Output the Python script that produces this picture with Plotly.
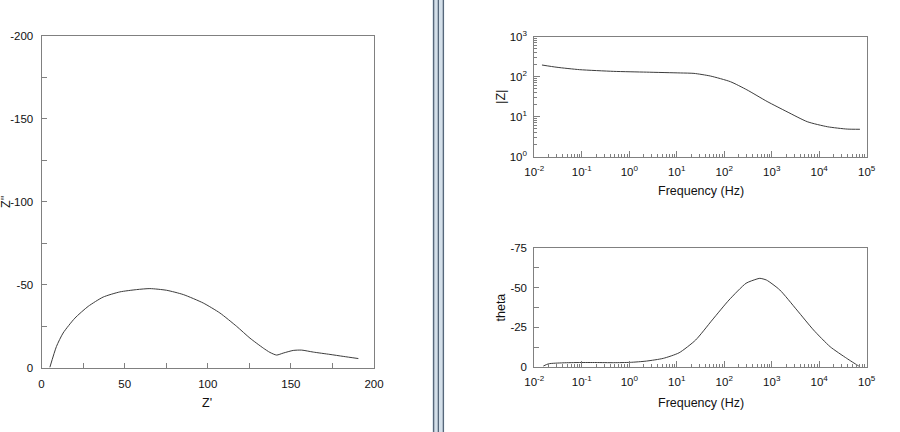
import plotly.graph_objects as go

# ---------------- data ----------------
# Nyquist
z_re = [5.0, 9.0, 13.0, 20.1, 28.1, 37.1, 47.1, 57.2, 65.2, 75.2, 85.3, 97.3, 107.3,
        117.4, 125.4, 133.4, 137.4, 141.4, 145.4, 151.4, 156.5, 163.5, 173.5, 181.5, 190.6]
z_im = [0.0, -12.7, -20.8, -29.8, -36.9, -42.5, -45.6, -47.0, -47.6, -46.6, -44.0, -38.9, -32.9,
        -24.8, -17.7, -11.7, -9.1, -7.5, -8.7, -10.3, -10.5, -9.3, -7.9, -6.7, -5.4]

# Bode magnitude
mag_freq = [0.0145, 0.03, 0.09, 0.47, 2.3, 12, 23, 51, 135, 300, 800, 2100, 5600, 15000, 39000, 72000]
mag_z = [196, 172, 150, 136, 130, 124, 121, 104, 75, 47, 24, 13.3, 7.5, 5.6, 4.9, 4.85]

# Bode phase
ph_freq = [0.0155, 0.02, 0.04, 0.09, 0.2, 0.47, 1.05, 2.3, 5.2, 11.2, 25, 56, 126, 288, 468,
           562, 776, 1480, 3390, 7590, 17000, 38000, 63000, 68000]
ph_theta = [-0.8, -2.2, -2.8, -3.0, -3.0, -2.9, -3.1, -3.9, -5.6, -9.1, -17.1, -29.7, -42.2, -52.7,
            -55.2, -55.8, -54.7, -48.5, -35.9, -23.4, -12.9, -5.6, -1.4, -0.8]

nyq_x_ticks = [0, 50, 100, 150, 200]
nyq_x_text = ["0", "50", "100", "150", "200"]
nyq_y_ticks = [-200, -150, -100, -50, 0]
nyq_y_text = ["-200", "-150", "-100", "-50", "0"]
freq_tickvals = [1e-2, 1e-1, 1e0, 1e1, 1e2, 1e3, 1e4, 1e5]
freq_ticktext = ["10<sup>-2</sup>", "10<sup>-1</sup>", "10<sup>0</sup>", "10<sup>1</sup>",
                 "10<sup>2</sup>", "10<sup>3</sup>", "10<sup>4</sup>", "10<sup>5</sup>"]
mag_tickvals = [1, 10, 100, 1000]
mag_ticktext = ["10<sup>0</sup>", "10<sup>1</sup>", "10<sup>2</sup>", "10<sup>3</sup>"]
theta_ticks = [-75, -50, -25, 0]
theta_text = ["-75", "-50", "-25", "0"]

# ---------------- layout helpers ----------------
W, H = 900, 432
def px(x):
    return x / W
def py(y):
    return 1 - y / H

LINE = "#3c3c3c"
AX = "#808080"
FONT = "Liberation Sans, Arial, sans-serif"
TICK_SIZE = 11.5
TITLE_SIZE = 12.5

fig = go.Figure()
fig.add_trace(go.Scatter(x=z_re, y=z_im, mode="lines", xaxis="x", yaxis="y",
                         line=dict(color=LINE, width=1, shape="spline", smoothing=0.6),
                         showlegend=False, hoverinfo="skip"))
fig.add_trace(go.Scatter(x=mag_freq, y=mag_z, mode="lines", xaxis="x2", yaxis="y2",
                         line=dict(color=LINE, width=1, shape="spline", smoothing=0.6),
                         showlegend=False, hoverinfo="skip"))
fig.add_trace(go.Scatter(x=ph_freq, y=ph_theta, mode="lines", xaxis="x3", yaxis="y3",
                         line=dict(color=LINE, width=1, shape="spline", smoothing=0.6),
                         showlegend=False, hoverinfo="skip"))

common = dict(showline=True, mirror=True, linecolor=AX, linewidth=1, ticks="inside",
              tickcolor=AX, showgrid=False, zeroline=False,
              tickfont=dict(family=FONT, size=TICK_SIZE, color="#111111"))

fig.update_layout(
    width=W, height=H,
    margin=dict(l=0, r=0, t=0, b=0, autoexpand=False),
    paper_bgcolor="white", plot_bgcolor="white",
    font=dict(family=FONT, size=12, color="#111111"),
    xaxis=dict(domain=[px(41.5), px(374)], range=[0, 200], anchor="y",
               tickmode="array", tickvals=nyq_x_ticks, ticktext=nyq_x_text,
               ticklen=5, ticklabelstandoff=6,
               minor=dict(ticks="inside", dtick=25, ticklen=5, tickcolor=AX, showgrid=False),
               **common),
    yaxis=dict(domain=[py(367.5), py(36)], range=[0, -200], anchor="x",
               tickmode="array", tickvals=nyq_y_ticks, ticktext=nyq_y_text,
               ticklen=5, ticklabelstandoff=5,
               minor=dict(ticks="inside", dtick=25, ticklen=5, tickcolor=AX, showgrid=False),
               **common),
    xaxis2=dict(domain=[px(534.3), px(866.7)], type="log", range=[-2, 5], anchor="y2",
                tickmode="array", tickvals=freq_tickvals, ticktext=freq_ticktext,
                ticklen=6, ticklabelstandoff=4,
                minor=dict(ticks="inside", dtick="D1", ticklen=3, tickcolor=AX, showgrid=False),
                **common),
    yaxis2=dict(domain=[py(156.7), py(36.7)], type="log", range=[0, 3], anchor="x2",
                tickmode="array", tickvals=mag_tickvals, ticktext=mag_ticktext,
                ticklen=6, ticklabelstandoff=4,
                minor=dict(ticks="inside", dtick="D1", ticklen=3, tickcolor=AX, showgrid=False),
                **common),
    xaxis3=dict(domain=[px(534.3), px(866.7)], type="log", range=[-2, 5], anchor="y3",
                tickmode="array", tickvals=freq_tickvals, ticktext=freq_ticktext,
                ticklen=6, ticklabelstandoff=4,
                minor=dict(ticks="inside", dtick="D1", ticklen=3, tickcolor=AX, showgrid=False),
                **common),
    yaxis3=dict(domain=[py(367.3), py(247.7)], range=[0, -75], anchor="x3",
                tickmode="array", tickvals=theta_ticks, ticktext=theta_text,
                ticklen=5, ticklabelstandoff=4,
                minor=dict(ticks="inside", dtick=12.5, ticklen=5, tickcolor=AX, showgrid=False),
                **common),
)

# axis titles
titles = [
    ("Z'", 207, 403, 0),
    ("Z''", 6, 202, -90),
    ("Frequency (Hz)", 700.5, 191, 0),
    ("Frequency (Hz)", 700.5, 403, 0),
    ("|Z|", 501, 96.7, -90),
    ("theta", 500, 307.5, -90),
]
for txt, x, y, ang in titles:
    fig.add_annotation(text=txt, x=px(x), y=py(y), xref="paper", yref="paper",
                       showarrow=False, textangle=ang, xanchor="center", yanchor="middle",
                       font=dict(family=FONT, size=TITLE_SIZE, color="#111111"))

# window splitter decoration
fig.add_shape(type="rect", xref="paper", yref="paper", x0=px(432.3), x1=px(444.3), y0=0, y1=1,
              fillcolor="#d3dfe9", line=dict(width=0), layer="below")
for a, b in [(433.0, 434.3), (437.7, 439.0), (442.7, 444.0)]:
    fig.add_shape(type="rect", xref="paper", yref="paper", x0=px(a), x1=px(b), y0=0, y1=1,
                  fillcolor="#56677a", line=dict(width=0), layer="below")

fig.write_html("out.html",
               config={"displayModeBar": False},
               post_script="document.body.style.margin='0';document.body.style.padding='0';"
                           "document.body.style.overflow='hidden';")
